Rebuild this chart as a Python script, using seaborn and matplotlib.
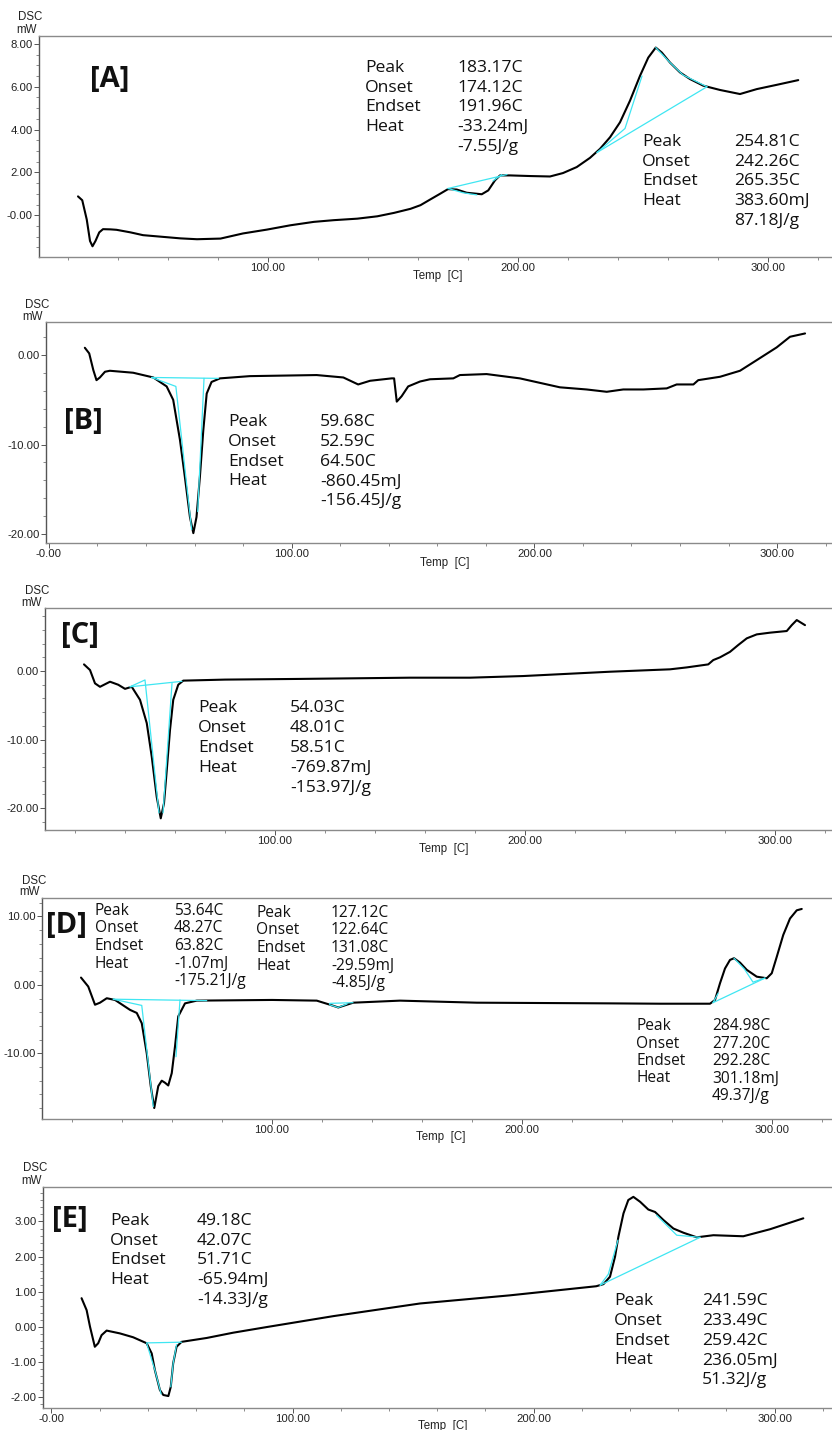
import matplotlib
matplotlib.use("Agg")
import matplotlib.pyplot as plt
from matplotlib.ticker import FixedLocator, FixedFormatter, MultipleLocator
import pandas as pd
import seaborn as sns

# ---------------- data ----------------
T_A = [24, 25.7, 27.5, 28.8, 29.8, 31, 32.5, 34, 37, 39.4, 45, 50, 59, 65, 71.6, 81, 90,
       99.6, 108.9, 118.3, 126.3, 135.7, 143.7, 150.4, 157, 161, 164.8, 168.8, 172, 175.5,
       179.5, 185.5, 188.1, 190.8, 192.8, 196.8, 205, 212.8, 218, 223.5, 228.8, 232.8,
       236.8, 240.8, 244.8, 248.8, 252.1, 255.1, 257.5, 260.8, 264.8, 268.8, 274.1, 280.8,
       288.8, 295.5, 303.5, 312.1]
Y_A = [0.88, 0.7, -0.2, -1.2, -1.45, -1.2, -0.8, -0.65, -0.66, -0.68, -0.8, -0.93, -1.02,
       -1.08, -1.12, -1.09, -0.85, -0.67, -0.47, -0.31, -0.23, -0.16, -0.05, 0.11, 0.3,
       0.47, 0.73, 1.0, 1.22, 1.2, 1.05, 0.98, 1.16, 1.63, 1.86, 1.86, 1.83, 1.81, 1.97,
       2.25, 2.68, 3.1, 3.64, 4.34, 5.35, 6.51, 7.36, 7.83, 7.6, 7.13, 6.67, 6.36, 6.05,
       5.85, 5.66, 5.89, 6.09, 6.31]

T_B = [14.8, 16.6, 18.3, 19.6, 21, 23.1, 25.1, 34.7, 43, 48.5, 51.2, 54, 56, 58.1, 59.5,
       60.8, 62.2, 63.6, 65, 67, 70.5, 82.8, 110.3, 121.3, 127.4, 132.3, 141.2, 142.2,
       143.3, 145.3, 148, 152.9, 157, 166.6, 169.3, 180.3, 194, 210.5, 221.5, 229.8, 236.6,
       244.9, 254.5, 258.6, 265.5, 267.5, 276.5, 284.7, 291.6, 299.8, 305.3, 311.5]
Y_B = [0.82, 0.19, -1.68, -2.8, -2.5, -1.86, -1.75, -1.97, -2.5, -3.5, -5.0, -9.5, -13.6,
       -18.1, -19.9, -18.1, -13.6, -8.4, -4.3, -3.0, -2.6, -2.35, -2.23, -2.5, -3.28, -2.87,
       -2.6, -2.6, -5.2, -4.6, -3.5, -2.95, -2.7, -2.6, -2.23, -2.12, -2.6, -3.6, -3.84,
       -4.1, -3.84, -3.84, -3.72, -3.28, -3.28, -2.8, -2.42, -1.75, -0.56, 0.86, 2.05, 2.42]

T_C = [23.6, 26, 28, 30, 34, 37.3, 40, 42.7, 46, 48.7, 50.7, 52.7, 54.3, 55.6, 56.7, 58,
       59.3, 61.3, 63.3, 80, 110, 154, 178, 199.3, 234, 258, 264.7, 273.3, 275.3, 278, 282,
       285.3, 288.7, 292.7, 298, 304.7, 306.7, 308.7, 312]
Y_C = [0.97, 0.15, -1.8, -2.3, -1.56, -2.0, -2.6, -2.3, -4.2, -7.6, -12.5, -18.4, -21.5,
       -19.3, -14.5, -8.6, -4.2, -2.0, -1.4, -1.25, -1.15, -0.97, -0.97, -0.73, -0.1, 0.25,
       0.53, 0.97, 1.6, 2.0, 2.8, 3.8, 4.77, 5.35, 5.6, 5.84, 6.7, 7.44, 6.7]

T_D = [23.6, 26.5, 29.2, 31.2, 33.9, 37.2, 43.2, 45.9, 47.9, 49.9, 51.5, 52.9, 54.5, 55.9,
       57.2, 58.5, 59.9, 61.2, 62.5, 65.2, 69.9, 100, 117.9, 123.2, 126.5, 132.5, 151.2,
       181.9, 235.2, 255.2, 275.2, 277.2, 279.2, 281.2, 283.2, 284.8, 287.2, 289.9, 293.9,
       297.9, 299.9, 301.9, 304.5, 307.2, 309.9, 311.9]
Y_D = [1.07, -0.24, -2.9, -2.6, -1.95, -2.2, -3.65, -4.1, -5.6, -10, -14.8, -18, -14.8,
       -14, -14.3, -14.7, -12.9, -9, -4.6, -2.7, -2.3, -2.2, -2.3, -2.9, -3.3, -2.6, -2.3,
       -2.6, -2.7, -2.75, -2.75, -2.2, 0.24, 2.4, 3.65, 3.9, 3.26, 2.2, 1.2, 0.97, 1.7, 4.1,
       7.3, 9.7, 10.9, 11.1]

T_E = [12.5, 14.6, 16, 18, 19.4, 20.8, 22.9, 28.4, 33.9, 39.5, 41.6, 42.9, 45, 46.4, 48.5,
       49.5, 50.5, 51.9, 54, 64.4, 75.4, 89.3, 116.9, 152.9, 190, 226, 229, 231.7, 233.8,
       235.2, 237.3, 239.3, 241.4, 244.2, 247.6, 250.4, 253.9, 258, 262.2, 267.7, 274.6,
       287, 298.1, 311.9]
Y_E = [0.82, 0.48, 0.01, -0.56, -0.46, -0.23, -0.1, -0.18, -0.29, -0.46, -0.75, -1.22,
       -1.79, -1.93, -1.96, -1.7, -1.03, -0.56, -0.42, -0.31, -0.16, 0.0, 0.31, 0.67, 0.9,
       1.16, 1.22, 1.43, 2.0, 2.57, 3.23, 3.61, 3.7, 3.56, 3.34, 3.27, 3.04, 2.8, 2.68,
       2.55, 2.61, 2.58, 2.78, 3.09]

# cyan analysis (baseline / tangent) lines: each a list of (T, value)
CYAN_A = [[(172, 1.25), (195.6, 1.9)],
          [(172, 1.25), (178, 1.05), (183.5, 0.95)],
          [(190, 1.6), (193.5, 1.9)],
          [(231.6, 2.93), (275.6, 6.0)],
          [(231.6, 2.93), (242.8, 4.05), (249.6, 6.5)],
          [(255.1, 7.83), (260.8, 7.13), (266, 6.55), (275.6, 6.0)]]
CYAN_B = [[(42.3, -2.5), (69.8, -2.6)],
          [(42.3, -2.5), (52.3, -3.5), (58.8, -19.5)],
          [(61.3, -17.5), (63.9, -2.6)]]
CYAN_C = [[(42, -2.3), (62.8, -1.5)],
          [(42, -2.3), (48, -1.3), (53.6, -20.7)],
          [(55.2, -20.7), (58.8, -1.8)]]
CYAN_D = [[(36.5, -2.09), (73.9, -2.3)],
          [(36.5, -2.09), (47.9, -3.0), (52.5, -17.8)],
          [(61.6, -10.5), (63.2, -2.2)],
          [(123, -2.7), (132.4, -2.6)],
          [(123, -2.9), (126.4, -3.3), (130, -2.8)],
          [(276.4, -2.6), (297.2, 1.0)],
          [(276.4, -2.6), (278.5, -1.2)],
          [(284.8, 3.9), (289, 2.3), (292.4, 0.4), (297.2, 1.0)]]
CYAN_E = [[(39.5, -0.45), (54.0, -0.43)],
          [(39.5, -0.46), (42.9, -1.22), (45.5, -1.9)],
          [(49.5, -1.7), (50.5, -1.03), (51.9, -0.5)],
          [(227.6, 1.19), (269.1, 2.55)],
          [(227.6, 1.19), (231, 1.5), (235, 2.47)],
          [(251, 3.18), (259.4, 2.61), (269.1, 2.55)]]

# tick values / labels
XT_A, XL_A = [100, 200, 300], ["100.00", "200.00", "300.00"]
YT_A, YL_A = [8, 6, 4, 2, 0], ["8.00", "6.00", "4.00", "2.00", "-0.00"]
XT_B, XL_B = [0, 100, 200, 300], ["-0.00", "100.00", "200.00", "300.00"]
YT_B, YL_B = [0, -10, -20], ["0.00", "-10.00", "-20.00"]
XT_C, XL_C = [100, 200, 300], ["100.00", "200.00", "300.00"]
YT_C, YL_C = [0, -10, -20], ["0.00", "-10.00", "-20.00"]
XT_D, XL_D = [100, 200, 300], ["100.00", "200.00", "300.00"]
YT_D, YL_D = [10, 0, -10], ["10.00", "0.00", "-10.00"]
XT_E, XL_E = [0, 100, 200, 300], ["-0.00", "100.00", "200.00", "300.00"]
YT_E, YL_E = [3, 2, 1, 0, -1, -2], ["3.00", "2.00", "1.00", "0.00", "-1.00", "-2.00"]

KEYS = ["Peak", "Onset", "Endset", "Heat", ""]
VAL_A1 = ["183.17C", "174.12C", "191.96C", "-33.24mJ", "-7.55J/g"]
VAL_A2 = ["254.81C", "242.26C", "265.35C", "383.60mJ", "87.18J/g"]
VAL_B = ["59.68C", "52.59C", "64.50C", "-860.45mJ", "-156.45J/g"]
VAL_C = ["54.03C", "48.01C", "58.51C", "-769.87mJ", "-153.97J/g"]
VAL_D1 = ["53.64C", "48.27C", "63.82C", "-1.07mJ", "-175.21J/g"]
VAL_D2 = ["127.12C", "122.64C", "131.08C", "-29.59mJ", "-4.85J/g"]
VAL_D3 = ["284.98C", "277.20C", "292.28C", "301.18mJ", "49.37J/g"]
VAL_E1 = ["49.18C", "42.07C", "51.71C", "-65.94mJ", "-14.33J/g"]
VAL_E2 = ["241.59C", "233.49C", "259.42C", "236.05mJ", "51.32J/g"]

# ---------------- layout ----------------
W, H = 832, 1430
sns.set_style("white")
plt.rcParams['font.family'] = ['Liberation Sans', 'DejaVu Sans']

fig = plt.figure(figsize=(W / 100, H / 100), dpi=100)


def fx(x):
    return x / W


def fy(y):
    return 1 - y / H


ANN_FONT = ['Open Sans', 'DejaVu Sans']
FS = 12.6
FSD = 11.2

panels = [
    dict(name="[A]", T=T_A, Y=Y_A, cyan=CYAN_A, box=(39, 36, 257), xlim=(8.4, 325.6),
         ylim=(-1.95, 8.37), xt=(XT_A, XL_A), yt=(YT_A, YL_A), ymin=0.5,
         tag=(110, 80), dsc=(30, 17), mw=(27, 30), temp=(438, 276),
         blocks=[(365, 457, 68, 19.7, VAL_A1, FS), (642, 734, 142, 19.7, VAL_A2, FS)]),
    dict(name="[B]", T=T_B, Y=Y_B, cyan=CYAN_B, box=(46, 322, 543), xlim=(-1.2, 322.6),
         ylim=(-21.0, 3.7), xt=(XT_B, XL_B), yt=(YT_B, YL_B), ymin=2,
         tag=(83, 422), dsc=(37, 305), mw=(33, 317), temp=(445, 563),
         blocks=[(228, 320, 422, 19.8, VAL_B, FS)]),
    dict(name="[C]", T=T_C, Y=Y_C, cyan=CYAN_C, box=(45, 608, 830), xlim=(8, 322.8),
         ylim=(-23.2, 9.2), xt=(XT_C, XL_C), yt=(YT_C, YL_C), ymin=2,
         tag=(80, 635), dsc=(37, 591), mw=(32, 603), temp=(444, 849),
         blocks=[(198, 290, 708, 20, VAL_C, FS)]),
    dict(name="[D]", T=T_D, Y=Y_D, cyan=CYAN_D, box=(42, 898, 1119), xlim=(8, 324),
         ylim=(-19.6, 12.7), xt=(XT_D, XL_D), yt=(YT_D, YL_D), ymin=2,
         tag=(66, 926), dsc=(34, 881), mw=(30, 892), temp=(441, 1137),
         blocks=[(95, 174, 911, 17.5, VAL_D1, FSD), (256, 331, 913, 17.5, VAL_D2, FSD),
                 (636, 712, 1026, 17.5, VAL_D3, FSD)]),
    dict(name="[E]", T=T_E, Y=Y_E, cyan=CYAN_E, box=(43, 1187, 1408), xlim=(-3.5, 323.8),
         ylim=(-2.3, 3.98), xt=(XT_E, XL_E), yt=(YT_E, YL_E), ymin=0.2,
         tag=(70, 1220), dsc=(35, 1168), mw=(32, 1181), temp=(443, 1426),
         blocks=[(110, 197, 1221, 19.7, VAL_E1, FS), (614, 702, 1301, 19.8, VAL_E2, FS)]),
]

for p in panels:
    left, top, bottom = p["box"]
    ax = fig.add_axes([fx(left), fy(bottom), (W - left) / W, (bottom - top) / H])
    df = pd.DataFrame({"T": p["T"], "DSC": p["Y"]})
    sns.lineplot(data=df, x="T", y="DSC", ax=ax, color="black", lw=1.5,
                 sort=False, estimator=None)
    for seg in p["cyan"]:
        ax.plot([s[0] for s in seg], [s[1] for s in seg], color="#3fe6f2", lw=0.9,
                zorder=3)
    ax.set_xlim(*p["xlim"])
    ax.set_ylim(*p["ylim"])
    ax.set_xlabel("")
    ax.set_ylabel("")
    ax.xaxis.set_major_locator(FixedLocator(p["xt"][0]))
    ax.xaxis.set_major_formatter(FixedFormatter(p["xt"][1]))
    ax.yaxis.set_major_locator(FixedLocator(p["yt"][0]))
    ax.yaxis.set_major_formatter(FixedFormatter(p["yt"][1]))
    ax.xaxis.set_minor_locator(MultipleLocator(20))
    ax.yaxis.set_minor_locator(MultipleLocator(p["ymin"]))
    ax.tick_params(axis="both", which="major", direction="out", length=3.5, width=0.7,
                   color="#555555", labelsize=8.2, labelcolor="#222222", pad=1)
    ax.tick_params(axis="both", which="minor", direction="out", length=2, width=0.6,
                   color="#777777")
    ax.tick_params(axis="x", bottom=True, which="both")
    ax.tick_params(axis="y", left=True, which="both")
    ax.spines["right"].set_visible(False)
    ax.spines["top"].set_color("#8a8a8a")
    ax.spines["bottom"].set_color("#8a8a8a")
    ax.spines["left"].set_color("#555555")
    for s in ("top", "bottom", "left"):
        ax.spines[s].set_linewidth(1.0)

    fig.text(fx(p["tag"][0]), fy(p["tag"][1]), p["name"], ha="center", va="center",
             fontsize=21, fontweight="bold", family=ANN_FONT, color="#111111")
    fig.text(fx(p["dsc"][0]), fy(p["dsc"][1]), "DSC", ha="center", va="center",
             fontsize=8.3, color="#222222")
    fig.text(fx(p["mw"][0]), fy(p["mw"][1]), "mW", ha="center", va="center",
             fontsize=8.3, color="#222222")
    fig.text(fx(p["temp"][0]), fy(p["temp"][1]), "Temp  [C]", ha="center", va="center",
             fontsize=8.3, color="#222222")
    for (lx, vx, y0, dy, vals, fs) in p["blocks"]:
        for i, (k, v) in enumerate(zip(KEYS, vals)):
            y = y0 + i * dy
            if k:
                fig.text(fx(lx), fy(y), k, ha="left", va="center", fontsize=fs,
                         family=ANN_FONT, color="#111111")
            fig.text(fx(vx), fy(y), v, ha="left", va="center", fontsize=fs,
                     family=ANN_FONT, color="#111111")

fig.savefig("out.png", dpi=100, facecolor="white")
